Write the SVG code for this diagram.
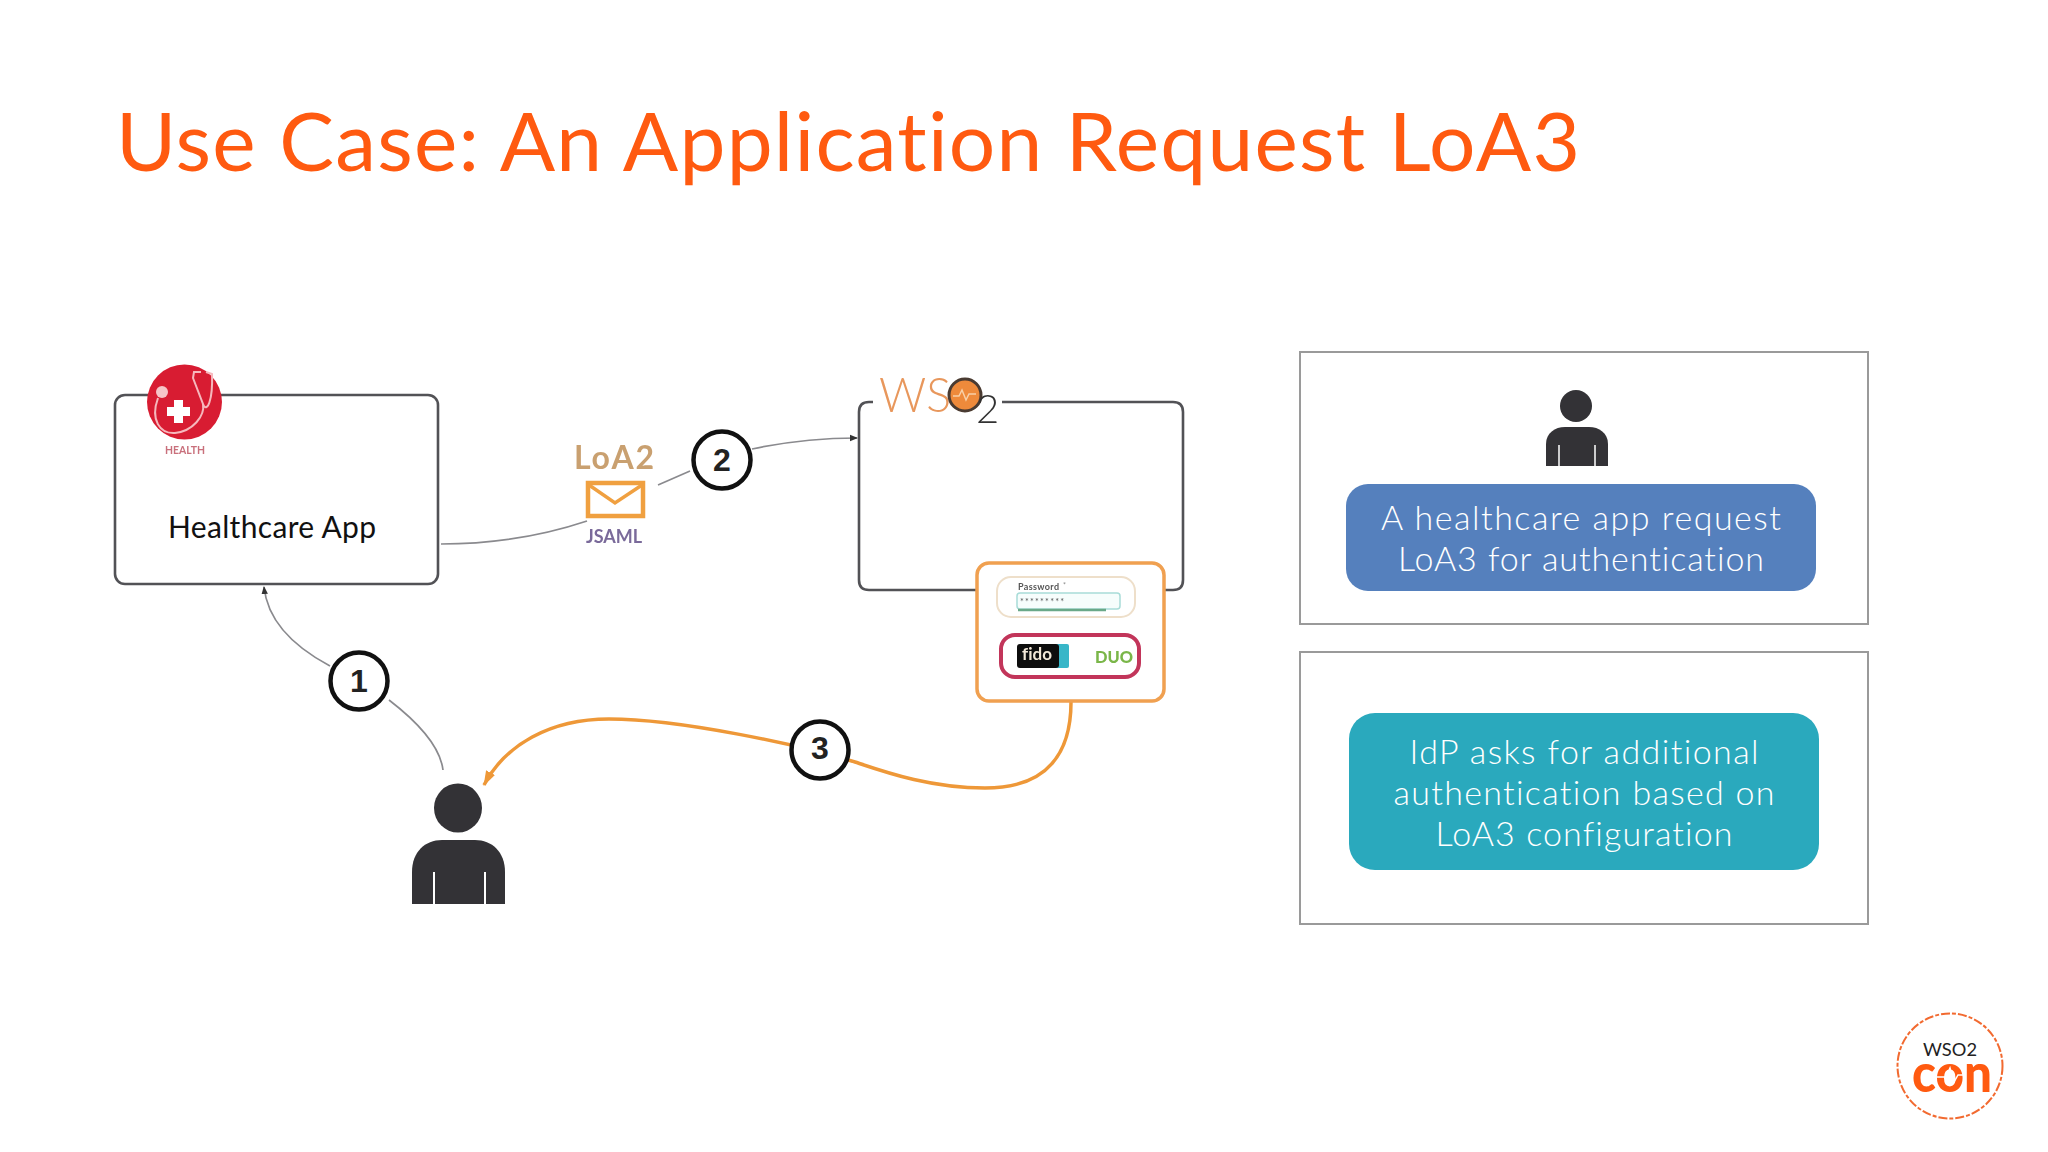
<svg xmlns="http://www.w3.org/2000/svg" width="2048" height="1152" viewBox="0 0 2048 1152">
<defs>
<style>
text{font-family:"Lato","Noto Sans","Liberation Sans",sans-serif;font-variant-ligatures:none}
.box{fill:#fff;stroke:#525256;stroke-width:2.6}
.panel{fill:#fff;stroke:#9a9a9a;stroke-width:2}
.thin{fill:none;stroke:#8a8a8e;stroke-width:1.7}
.num{fill:#fff;stroke:#111;stroke-width:4.5}
.numt{font-family:"Liberation Sans",sans-serif;font-size:32px;font-weight:700;fill:#222;text-anchor:middle}
.pillt{font-size:34px;font-weight:300;fill:#fff;text-anchor:middle}
.fig{fill:#333236}
</style>
<marker id="a" markerWidth="9" markerHeight="9" refX="7" refY="4" orient="auto" markerUnits="userSpaceOnUse"><path d="M0,0.8 L8,4 L0,7.2Z" fill="#333"/></marker>
<marker id="o" markerWidth="18" markerHeight="18" refX="14" refY="7" orient="auto" markerUnits="userSpaceOnUse"><path d="M0,2 L15,7 L0,12Z" fill="#ee9838"/></marker>
<filter id="s" x="-10%" y="-10%" width="120%" height="120%"><feGaussianBlur stdDeviation="0.6"/></filter>
</defs>
<rect width="2048" height="1152" fill="#fff"/>
<text id="title" x="116" y="171" font-size="82" fill="#ff5a10" textLength="1464" lengthAdjust="spacing">Use Case: An Application Request LoA3</text>

<g id="connectors">
<path class="thin" d="M441,544 C500,544 545,535 587,521"/>
<path class="thin" d="M658,485 L690,471"/>
<path class="thin" d="M752,449 C785,442 820,438 857,438" marker-end="url(#a)"/>
<path class="thin" d="M330,666 C300,650 268,625 264,587" marker-end="url(#a)"/>
<path class="thin" d="M389,700 C415,720 440,745 443,770"/>
<path d="M1071,702 C1071,750 1050,788 985,788 C930,788 885,772 855,762 C800,745 680,719 609,719 C550,719 505,745 484,785" fill="none" stroke="#ee9838" stroke-width="3.5" marker-end="url(#o)"/>
</g>

<g id="healthcare-app">
<rect class="box" x="115" y="395" width="323" height="189" rx="10"/>
<text x="272" y="538" font-size="30" fill="#111" text-anchor="middle" textLength="208">Healthcare App</text>
<g id="health-logo" filter="url(#s)">
<circle cx="184.500" cy="402" r="37.500" fill="#d81f33"/>
<path d="M158,398 C150,420 160,434 175,433 C193,431 205,416 203,404 L193,378 L194,372 L201,372 M203,404 C207,414 213,400 212,374 L206,372" fill="none" stroke="#f6b8bd" stroke-width="2"/>
<circle cx="162" cy="392" r="6" fill="#f6c5c8"/>
<path d="M167,407 h7 v-7 h9 v7 h7 v9 h-7 v7 h-9 v-7 h-7z" fill="#fff"/>
<text x="185" y="454" font-size="12" font-weight="700" fill="#c9707c" text-anchor="middle" textLength="40" lengthAdjust="spacingAndGlyphs">HEALTH</text>
</g>
</g>

<g id="loa2" filter="url(#s)">
<text x="614" y="469" font-size="32" font-weight="700" fill="#c9a070" text-anchor="middle" textLength="80">LoA2</text>
<rect x="588" y="483" width="55" height="33" fill="#fff" stroke="#f0a040" stroke-width="4.500"/>
<path d="M589,485 L615,503 L642,485" fill="none" stroke="#f0a040" stroke-width="3.500"/>
<text x="614" y="543" font-size="18" font-weight="700" fill="#7a6a9a" text-anchor="middle" textLength="56">JSAML</text>
</g>

<g id="wso2">
<path d="M873,402 H869 Q859,402 859,412 V580 Q859,590 869,590 H1173 Q1183,590 1183,580 V412 Q1183,402 1173,402 H1002" fill="none" stroke="#525256" stroke-width="2.600"/>
<g id="wso2-logo" filter="url(#s)">
<text x="879" y="412" font-size="48" font-weight="300" fill="#e8975c" textLength="72" lengthAdjust="spacingAndGlyphs">WS</text>
<circle cx="965" cy="395" r="16" fill="#ee8a3a" stroke="#4a3a30" stroke-width="3"/>
<path d="M953,396 h6 l3,-6 l4,10 l3,-6 h7" fill="none" stroke="#f8d0a8" stroke-width="1.500"/>
<text x="976" y="423" font-size="40" font-weight="300" fill="#333">2</text>
</g>
</g>

<g id="auth-card">
<rect x="977" y="563" width="187" height="138" rx="12" fill="#fff" stroke="#f0a050" stroke-width="3.500"/>
<g filter="url(#s)">
<rect x="997" y="577" width="138" height="40" rx="14" fill="#fff" stroke="#eedfca" stroke-width="2"/>
<text x="1018" y="590" font-size="9" font-weight="700" fill="#555" textLength="41">Password</text>
<text x="1063" y="588" font-size="7" fill="#888">*</text>
<rect x="1017" y="593" width="103" height="16" rx="3" fill="#f6fdfc" stroke="#a8dcd8" stroke-width="1.500"/>
<text x="1020" y="605" font-size="9" fill="#555" textLength="44">*********</text>
<path d="M1018,610 H1106" stroke="#6aa888" stroke-width="2.500"/>
<rect x="1001" y="635" width="138" height="42" rx="14" fill="#fff" stroke="#c2345a" stroke-width="4"/>
<rect x="1056" y="644" width="13" height="24" rx="2" fill="#38b6c8"/>
<rect x="1017" y="644" width="42" height="24" rx="3" fill="#0c0c0c"/>
<text x="1022" y="660" font-size="17" font-weight="700" fill="#f2e8d8" textLength="30">fido</text>
<text x="1114" y="663" font-size="16" font-weight="900" fill="#7ab648" text-anchor="middle" textLength="38" lengthAdjust="spacingAndGlyphs">DUO</text>
</g>
</g>

<g id="step-1"><circle class="num" cx="359" cy="681" r="28.500"/><text class="numt" x="359" y="692">1</text></g>
<g id="step-2"><circle class="num" cx="722" cy="460" r="28.500"/><text class="numt" x="722" y="471">2</text></g>
<g id="step-3"><circle class="num" cx="820" cy="750" r="28.500"/><text class="numt" x="820" y="759">3</text></g>

<g id="user">
<ellipse class="fig" cx="458" cy="808" rx="24" ry="24.500"/>
<path class="fig" d="M412,904 V872 C412,852 425,840 442,840 H475 C492,840 505,852 505,872 V904Z"/>
<path d="M434,872 V904 M485,872 V904" stroke="#fff" stroke-width="2"/>
</g>

<g id="panel-1">
<rect class="panel" x="1300" y="352" width="568" height="272"/>
<g id="panel-user">
<circle class="fig" cx="1576" cy="406" r="16"/>
<path class="fig" d="M1546,466 V444 C1546,433 1555,427 1565,427 H1589 C1599,427 1608,433 1608,444 V466Z"/>
<path d="M1559,445 V466 M1595,445 V466" stroke="#fff" stroke-width="1.500"/>
</g>
<rect x="1346" y="484" width="470" height="107" rx="22" fill="#5580bd"/>
<text class="pillt" x="1581" y="530" textLength="400">A healthcare app request</text>
<text class="pillt" x="1581" y="571" textLength="366">LoA3 for authentication</text>
</g>

<g id="panel-2">
<rect class="panel" x="1300" y="652" width="568" height="272"/>
<rect x="1349" y="713" width="470" height="157" rx="26" fill="#2aa9bd"/>
<text class="pillt" x="1584" y="764" textLength="349">IdP asks for additional</text>
<text class="pillt" x="1584" y="805" textLength="381">authentication based on</text>
<text class="pillt" x="1584" y="846" textLength="297">LoA3 configuration</text>
</g>

<g id="wso2con-logo">
<circle cx="1950" cy="1066" r="52.500" fill="#fff" stroke="#f26a30" stroke-width="2" stroke-dasharray="9 2 4 2"/>
<text x="1950" y="1056" font-size="18" fill="#222" text-anchor="middle" textLength="54" lengthAdjust="spacingAndGlyphs" font-family="Liberation Sans">WSO2</text>
<text x="1952" y="1092" font-size="54" font-weight="900" fill="#ff5a10" text-anchor="middle" textLength="80" lengthAdjust="spacingAndGlyphs">con</text>
<path d="M1936,1077 h10 l4,-9 l4,14 l4,-7 h6" fill="none" stroke="#fff" stroke-width="1.500"/>
</g>
</svg>
